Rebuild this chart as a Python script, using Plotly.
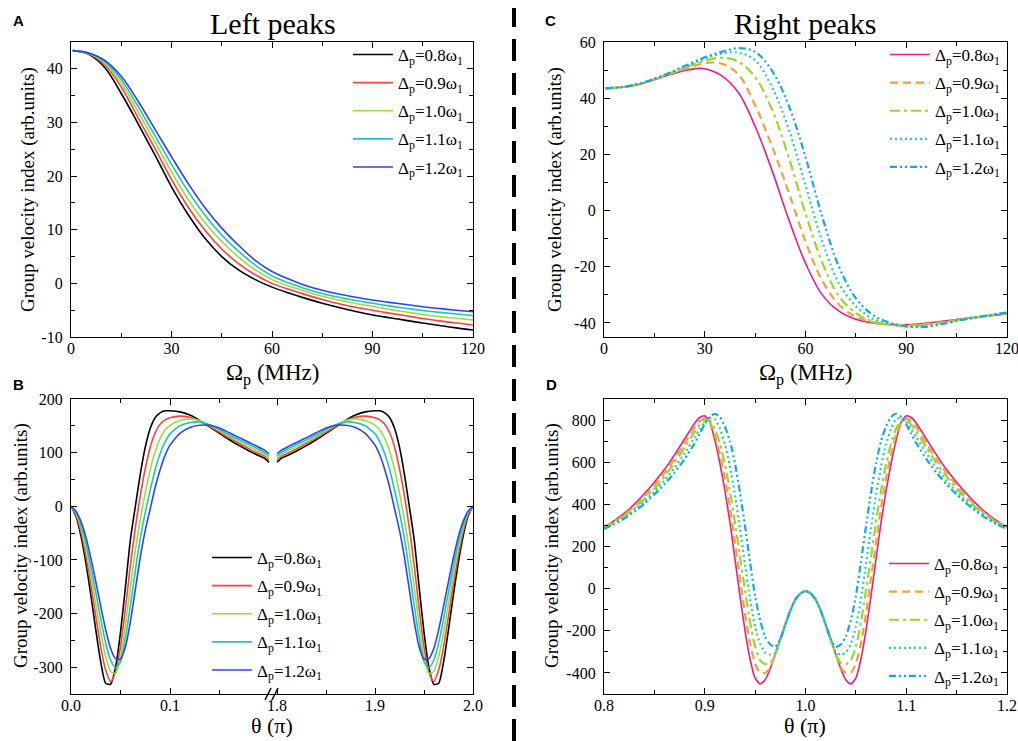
import plotly.graph_objects as go

# ---------------- data ----------------
series_labels = ["Δ<sub>p</sub>=0.8ω<sub>1</sub>", "Δ<sub>p</sub>=0.9ω<sub>1</sub>",
                 "Δ<sub>p</sub>=1.0ω<sub>1</sub>", "Δ<sub>p</sub>=1.1ω<sub>1</sub>",
                 "Δ<sub>p</sub>=1.2ω<sub>1</sub>"]

# Panel A / C : x = Omega_p (MHz)
omega = [0.5, 5, 10, 15, 20, 25, 30, 35, 40, 45, 50, 55, 60, 65, 70, 75, 80, 85, 90, 95, 100, 105, 110, 115, 120]

A_08 = [43.4, 42.8, 40.3, 35.4, 29.8, 24.0, 18.0, 12.8, 8.4, 5.0, 2.5, 0.7, -0.7, -1.8, -2.8, -3.7, -4.5, -5.25, -5.9, -6.4, -6.9, -7.4, -7.85, -8.3, -8.7]
A_09 = [43.4, 42.9, 40.8, 36.6, 30.9, 25.2, 19.4, 14.2, 9.9, 6.4, 3.7, 1.6, 0.0, -1.1, -2.1, -3.0, -3.8, -4.45, -5.0, -5.55, -6.05, -6.55, -7.0, -7.4, -7.75]
A_10 = [43.4, 42.9, 41.1, 37.3, 32.0, 26.4, 20.8, 15.6, 11.3, 7.8, 4.9, 2.5, 0.7, -0.5, -1.5, -2.4, -3.1, -3.75, -4.3, -4.85, -5.35, -5.8, -6.2, -6.5, -6.8]
A_11 = [43.4, 43.0, 41.4, 38.0, 33.0, 27.6, 22.2, 17.1, 12.7, 9.0, 6.0, 3.4, 1.4, 0.1, -1.0, -1.9, -2.6, -3.2, -3.7, -4.2, -4.65, -5.05, -5.4, -5.7, -6.0]
A_12 = [43.4, 43.0, 41.6, 38.6, 34.0, 28.8, 23.6, 18.6, 14.1, 10.3, 7.1, 4.3, 2.2, 0.8, -0.4, -1.3, -2.0, -2.6, -3.1, -3.55, -3.95, -4.35, -4.7, -5.0, -5.3]

C_08 = [43.5, 43.9, 44.8, 46.6, 48.5, 50.1, 50.5, 48.0, 42.0, 30.0, 14.4, -3.1, -18.7, -30.0, -35.8, -38.7, -40.0, -40.5, -40.6, -40.2, -39.5, -38.8, -38.0, -37.4, -36.8]
C_09 = [43.5, 43.9, 44.9, 46.7, 48.8, 50.8, 52.5, 52.3, 48.5, 37.5, 23.0, 6.5, -11.0, -25.0, -33.5, -37.8, -39.7, -40.6, -40.8, -40.5, -39.8, -39.0, -38.1, -37.4, -36.7]
C_10 = [43.5, 43.9, 44.9, 46.8, 49.0, 51.3, 53.3, 54.4, 53.0, 47.5, 36.0, 19.0, -1.0, -18.5, -30.5, -36.5, -39.5, -40.7, -41.0, -40.9, -40.1, -39.1, -38.2, -37.3, -36.6]
C_11 = [43.5, 43.9, 45.0, 46.9, 49.2, 51.6, 54.0, 55.9, 56.2, 53.5, 44.0, 29.0, 9.0, -11.0, -26.0, -34.0, -38.5, -40.3, -41.2, -41.2, -40.4, -39.2, -38.2, -37.2, -36.4]
C_12 = [43.5, 43.9, 45.0, 46.9, 49.3, 52.0, 54.6, 56.5, 57.8, 56.5, 49.8, 37.4, 19.1, -2.3, -20.1, -31.2, -37.1, -39.9, -41.2, -41.5, -40.6, -39.3, -38.2, -37.2, -36.3]

# Panel B : x = theta (pi), left branch 0..0.2 (right branch 1.8..2.0 is its mirror image)
theta_B = [0, 0.005, 0.01, 0.015, 0.02, 0.025, 0.03, 0.035, 0.04, 0.045, 0.05, 0.055, 0.06, 0.065,
           0.07, 0.075, 0.08, 0.085, 0.09, 0.095, 0.1, 0.11, 0.12, 0.13, 0.14, 0.15, 0.16, 0.17,
           0.18, 0.19, 0.195, 0.2]
B_08 = [0, -18, -55, -105, -165, -230, -290, -330, -332, -300, -235, -150, -62, 0, 60, 110, 145, 165, 174, 178, 178, 176, 170, 160, 148, 136, 124, 113, 103, 94, 90, 82]
B_09 = [0, -15, -47, -92, -145, -205, -262, -305, -327, -310, -262, -190, -110, -40, 20, 70, 110, 137, 153, 161, 165, 168, 166, 159, 149, 138, 127, 117, 107, 98, 94, 86]
B_10 = [0, -13, -40, -80, -128, -182, -235, -280, -308, -312, -280, -220, -150, -82, -25, 25, 68, 102, 126, 142, 151, 160, 163, 160, 151, 141, 130, 120, 111, 102, 97, 90]
B_11 = [0, -11, -34, -68, -112, -160, -210, -255, -287, -301, -290, -245, -185, -120, -60, -12, 30, 68, 98, 120, 135, 150, 156, 157, 152, 143, 133, 124, 115, 106, 101, 94]
B_12 = [0, -9, -28, -57, -96, -140, -186, -230, -265, -284, -285, -262, -215, -155, -95, -45, -5, 35, 68, 95, 114, 136, 147, 151, 151, 146, 137, 128, 119, 110, 105, 98]

# Panel D : x = theta (pi), half 0.8..1.0 (1.0..1.2 is its mirror image)
theta_D = [0.80, 0.81, 0.82, 0.83, 0.84, 0.85, 0.86, 0.87, 0.88, 0.89, 0.895, 0.90, 0.905, 0.91,
           0.915, 0.92, 0.925, 0.93, 0.935, 0.94, 0.945, 0.95, 0.955, 0.96, 0.965, 0.97, 0.975,
           0.98, 0.985, 0.99, 0.995, 1.0]
D_08 = [292, 322, 357, 400, 450, 505, 565, 635, 710, 785, 812, 820, 790, 705, 595, 465, 315, 140, -35, -200, -335, -425, -452, -432, -380, -310, -240, -170, -103, -52, -22, -12]
D_09 = [290, 317, 350, 390, 437, 490, 548, 615, 690, 765, 795, 806, 790, 730, 640, 525, 385, 220, 50, -120, -260, -355, -400, -400, -375, -310, -240, -170, -103, -52, -22, -12]
D_10 = [288, 313, 344, 382, 425, 475, 532, 597, 670, 745, 778, 798, 798, 760, 690, 590, 465, 315, 150, -10, -160, -275, -340, -358, -352, -310, -240, -170, -103, -52, -22, -12]
D_11 = [286, 309, 338, 373, 414, 461, 513, 573, 642, 718, 757, 790, 810, 805, 760, 685, 580, 445, 285, 115, -50, -180, -262, -303, -312, -305, -240, -170, -103, -52, -22, -12]
D_12 = [283, 305, 332, 365, 403, 447, 495, 550, 615, 690, 735, 780, 815, 830, 815, 770, 700, 595, 455, 295, 125, -35, -150, -228, -265, -276, -240, -170, -103, -52, -22, -12]

# tick values / labels
tick_omega = [0, 30, 60, 90, 120]
tick_omega_text = ["0", "30", "60", "90", "120"]
tick_A_y = [-10, 0, 10, 20, 30, 40]
tick_A_y_text = ["-10", "0", "10", "20", "30", "40"]
tick_C_y = [-40, -20, 0, 20, 40, 60]
tick_C_y_text = ["-40", "-20", "0", "20", "40", "60"]
tick_B_y = [-300, -200, -100, 0, 100, 200]
tick_B_y_text = ["-300", "-200", "-100", "0", "100", "200"]
tick_B_xl = [0.0, 0.1]
tick_B_xl_text = ["0.0", "0.1"]
tick_B_xr = [1.8, 1.9, 2.0]
tick_B_xr_text = ["1.8", "1.9", "2.0"]
tick_D_x = [0.8, 0.9, 1.0, 1.1, 1.2]
tick_D_x_text = ["0.8", "0.9", "1.0", "1.1", "1.2"]
tick_D_y = [-400, -200, 0, 200, 400, 600, 800]
tick_D_y_text = ["-400", "-200", "0", "200", "400", "600", "800"]

# ---------------- styling ----------------
W, H = 1018, 741
def fx(px): return px / W
def fy(py): return 1 - py / H

SERIF = "Liberation Serif, Times New Roman, serif"
colors_AB = ['#000000', '#FF4040', '#9ADE3A', '#1CC4C4', '#2A44F5']
colors_CD = ['#EE1C7E', '#F5A03C', '#99D82A', '#1ED69E', '#14A6F0']
dash_CD = ['solid', '8px,5px', '10px,4px,3px,4px', '2px,3px', '7px,3px,2px,3px,2px,3px']
width_CD = [1.6, 2.2, 2.2, 2.2, 2.2]

A_all = [A_08, A_09, A_10, A_11, A_12]
C_all = [C_08, C_09, C_10, C_11, C_12]
B_all = [B_08, B_09, B_10, B_11, B_12]
D_all = [D_08, D_09, D_10, D_11, D_12]

fig = go.Figure()
for i in range(5):
    fig.add_trace(go.Scatter(x=omega, y=A_all[i], mode='lines', name=series_labels[i],
                             line=dict(color=colors_AB[i], width=1.6, shape='spline'),
                             xaxis='x', yaxis='y', legend='legend', legendgroup='a%d' % i))
for i in range(5):
    fig.add_trace(go.Scatter(x=omega, y=C_all[i], mode='lines', name=series_labels[i],
                             line=dict(color=colors_CD[i], width=width_CD[i], dash=dash_CD[i], shape='spline'),
                             xaxis='x2', yaxis='y2', legend='legend2', legendgroup='c%d' % i))
for i in range(5):
    fig.add_trace(go.Scatter(x=theta_B, y=B_all[i], mode='lines', name=series_labels[i],
                             line=dict(color=colors_AB[i], width=1.6, shape='spline', smoothing=0.6),
                             xaxis='x3', yaxis='y3', legend='legend3', legendgroup='b%d' % i))
    # mirror branch  (theta -> 2 - theta)
    fig.add_trace(go.Scatter(x=[2 - t for t in theta_B], y=B_all[i], mode='lines', name=series_labels[i],
                             line=dict(color=colors_AB[i], width=1.6, shape='spline', smoothing=0.6),
                             xaxis='x4', yaxis='y4', showlegend=False, legendgroup='b%d' % i))
for i in range(5):
    xs = theta_D + [2 - t for t in reversed(theta_D[:-1])]
    ys = D_all[i] + D_all[i][-2::-1]
    fig.add_trace(go.Scatter(x=xs, y=ys, mode='lines', name=series_labels[i],
                             line=dict(color=colors_CD[i], width=width_CD[i], dash=dash_CD[i], shape='spline', smoothing=0.6),
                             xaxis='x5', yaxis='y5', legend='legend4', legendgroup='d%d' % i))

common = dict(showline=True, linecolor='black', linewidth=1.2, ticks='inside', ticklen=6,
              tickwidth=1.2, tickcolor='black', showgrid=False, zeroline=False,
              tickfont=dict(family=SERIF, size=16, color='black'), automargin=False,
              fixedrange=True, tickmode='array')
def minor(vals):
    return dict(tickmode='array', tickvals=vals, ticks='inside', ticklen=3.5,
                tickwidth=1.2, tickcolor='black', showgrid=False)

dom_top = [fy(337), fy(42)]
dom_bot = [fy(694), fy(399)]
dom_left = [fx(71), fx(473)]
dom_right = [fx(604), fx(1007)]
brk = fx(273)
XS = -3  # x tick label standoff

legend_common = dict(font=dict(family=SERIF, size=17, color='black'), bgcolor='rgba(0,0,0,0)',
                     borderwidth=0, xanchor='left', yanchor='top', itemwidth=40,
                     tracegroupgap=3, itemclick=False, itemdoubleclick=False)

fig.update_layout(
    template='none', width=W, height=H, margin=dict(l=0, r=0, t=0, b=0),
    paper_bgcolor='white', plot_bgcolor='white', showlegend=True,
    # Panel A
    xaxis=dict(domain=dom_left, range=[0, 120], anchor='y', tickvals=tick_omega, ticktext=tick_omega_text,
               minor=minor([15, 45, 75, 105]), mirror='ticks', ticklabelstandoff=XS, **common),
    yaxis=dict(domain=dom_top, range=[-10, 45], anchor='x', tickvals=tick_A_y, ticktext=tick_A_y_text,
               minor=minor([-5, 5, 15, 25, 35]), mirror='ticks', ticklabelstandoff=4, **common),
    # Panel C
    xaxis2=dict(domain=dom_right, range=[0, 120], anchor='y2', tickvals=tick_omega, ticktext=tick_omega_text,
                minor=minor([15, 45, 75, 105]), mirror='ticks', ticklabeloverflow='allow',
                ticklabelstandoff=XS, **common),
    yaxis2=dict(domain=dom_top, range=[-45, 60], anchor='x2', tickvals=tick_C_y, ticktext=tick_C_y_text,
                minor=minor([-30, -10, 10, 30, 50]), mirror='ticks', ticklabelstandoff=4, **common),
    # Panel B (broken x axis)
    xaxis3=dict(domain=[fx(71), brk], range=[0, 0.20404], anchor='y3', tickvals=tick_B_xl, ticktext=tick_B_xl_text,
                minor=minor([0.05, 0.15]), mirror='ticks', ticklabelstandoff=XS, **common),
    xaxis4=dict(domain=[brk, fx(473)], range=[1.79592, 2.0], anchor='y4', tickvals=tick_B_xr, ticktext=tick_B_xr_text,
                minor=minor([1.85, 1.95]), mirror='ticks', ticklabelstandoff=XS, **common),
    yaxis3=dict(domain=dom_bot, range=[-350, 200], anchor='x3', side='left', tickvals=tick_B_y, ticktext=tick_B_y_text,
                minor=minor([-250, -150, -50, 50, 150]), ticklabelstandoff=4, **common),
    yaxis4=dict(domain=dom_bot, range=[-350, 200], anchor='x4', side='right', tickvals=tick_B_y,
                showticklabels=False, minor=minor([-250, -150, -50, 50, 150]), **common),
    # Panel D
    xaxis5=dict(domain=dom_right, range=[0.8, 1.2], anchor='y5', tickvals=tick_D_x, ticktext=tick_D_x_text,
                minor=minor([0.85, 0.95, 1.05, 1.15]), mirror='ticks', ticklabeloverflow='allow',
                ticklabelstandoff=XS, **common),
    yaxis5=dict(domain=dom_bot, range=[-500, 900], anchor='x5', tickvals=tick_D_y, ticktext=tick_D_y_text,
                minor=minor([-300, -100, 100, 300, 500, 700]), mirror='ticks', ticklabelstandoff=4, **common),
    legend=dict(x=fx(348), y=fy(37), **legend_common),
    legend2=dict(x=fx(885), y=fy(37), **legend_common),
    legend3=dict(x=fx(207), y=fy(540), **legend_common),
    legend4=dict(x=fx(884), y=fy(546), **legend_common),
)

ann = []
def text(x, y, s, size, family=SERIF, angle=0, weight='normal'):
    ann.append(dict(x=fx(x), y=fy(y), xref='paper', yref='paper', text=s, showarrow=False,
                    xanchor='center', yanchor='middle', textangle=angle,
                    font=dict(family=family, size=size, color='black', weight=weight)))

text(273, 24, "Left peaks", 30)
text(805, 24, "Right peaks", 30)
for (x, y, s) in [(18, 20, "A"), (550, 20, "C"), (18, 384, "B"), (551, 384, "D")]:
    text(x, y, s, 15, family="Liberation Sans, Arial, sans-serif", weight='bold')
ytitle = "Group velocity index (arb.units)"
text(28, 190, ytitle, 19, angle=-90)
text(555, 190, ytitle, 19, angle=-90)
text(21, 546, ytitle, 19, angle=-90)
text(552, 546, ytitle, 19, angle=-90)
text(272, 374, "Ω<sub>p</sub> (MHz)", 23)
text(805, 374, "Ω<sub>p</sub> (MHz)", 23)
text(272, 725, "θ (π)", 22)
text(805, 725, "θ (π)", 22)
fig.update_layout(annotations=ann)

# axis-break marks "//" on panel B bottom axis
for bx in (268, 275):
    fig.add_shape(type='line', xref='paper', yref='paper', x0=fx(bx - 3), x1=fx(bx + 3),
                  y0=fy(700), y1=fy(688), line=dict(color='black', width=1.5))

# dashed divider between the two columns
fig.add_shape(type='line', xref='paper', yref='paper', x0=fx(514), x1=fx(514), y0=0, y1=fy(8),
              line=dict(color='black', width=4, dash='22px,12px'))

fig.write_html("out.html", config={'displayModeBar': False},
               post_script="document.body.style.margin='0';document.body.style.overflow='hidden';")
